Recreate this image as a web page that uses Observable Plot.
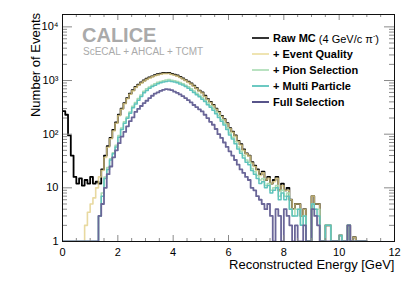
<!DOCTYPE html>
<html>
<head>
<meta charset="utf-8">
<script src="https://cdn.jsdelivr.net/npm/d3@7"></script>
<script src="https://cdn.jsdelivr.net/npm/@observablehq/plot@0.6"></script>
<style>
  html, body { margin: 0; padding: 0; background: #fff; }
  #wrap { position: relative; width: 415px; height: 281px; font-family: "Liberation Sans", Arial, Helvetica, sans-serif; }
  #calice { position: absolute; left: 82px; top: 28px; color: #aaa; font-weight: bold; font-size: 20px; line-height: 15px; }
  #calice-sub { position: absolute; left: 83px; top: 47px; color: #aaa; font-size: 10px; line-height: 10px; }
  #ytitle { position: absolute; left: 29px; top: 13px; font-size: 13px; line-height: 14px; writing-mode: vertical-rl; transform: rotate(180deg); color: #000; white-space: nowrap; }
  #legend { position: absolute; left: 252px; top: 30px; font-size: 11px; font-weight: bold; color: #000; }
  .row { display: flex; align-items: center; height: 16px; }
  .row svg { width: 18px; height: 6px; margin-right: 3px; }
  .row .n { font-weight: normal; }
</style>
</head>
<body>
<div id="wrap"></div>
<script>
// ---- data (0.1 GeV bins starting at 0.0 GeV) ----
const seriesNames = ["Raw MC", "+ Event Quality", "+ Pion Selection", "+ Multi Particle", "Full Selection"];

const rawMC = [
  270, 230, 95, 40, 16, 12, 15, 11, 14, 12,
  16, 12, 13, 12, 22, 40, 60, 85, 120, 165,
  230, 300, 380, 470, 570, 660, 760, 840, 920, 1000,
  1080, 1140, 1200, 1260, 1310, 1340, 1380, 1370, 1390, 1330,
  1290, 1240, 1170, 1100, 1020, 950, 880, 800, 720, 650,
  600, 520, 450, 400, 350, 300, 260, 220, 190, 160,
  130, 112, 95, 75, 65, 52, 44, 40, 30, 26,
  22, 18, 20, 14, 16, 12, 14, 16, 9, 12,
  9, 10, 6, 4, 5, 5, 3, 4, 0, 0,
  7, 5, 5, 0, 0, 2, 2, 0, 0, 0,
  1.3, 0, 0, 2, 0, 1.2, 0, 0, 0, 0
];
const eventQuality = [
  0, 0, 0, 0, 0, 0, 0, 0, 2, 3.5,
  5, 6.5, 10, 16, 21, 37, 57, 82, 115, 160,
  222, 292, 368, 458, 555, 640, 740, 815, 895, 975,
  1050, 1110, 1170, 1225, 1275, 1305, 1345, 1335, 1355, 1295,
  1255, 1210, 1140, 1070, 995, 925, 858, 780, 700, 635,
  585, 505, 438, 390, 340, 292, 253, 214, 185, 156,
  126, 109, 92, 73, 63, 50, 43, 39, 29, 25,
  21, 17, 19, 14, 15, 12, 13, 15, 9, 11,
  9, 9, 6, 4, 5, 5, 3, 4, 0, 0,
  7, 5, 5, 0, 0, 2, 2, 0, 0, 0,
  1.3, 0, 0, 2, 0, 1.2, 0, 0, 0, 0
];
const pionSelection = [
  0, 0, 0, 0, 0, 0, 0, 0, 0, 0,
  0, 0, 0, 3, 8, 16, 24, 35, 45, 62,
  95, 130, 170, 210, 260, 330, 390, 460, 540, 630,
  700, 760, 820, 875, 925, 960, 995, 1020, 1040, 1010,
  990, 960, 920, 875, 820, 765, 700, 640, 580, 530,
  480, 430, 380, 340, 300, 258, 222, 188, 160, 132,
  105, 88, 72, 58, 48, 40, 33, 30, 23, 20,
  17, 14, 15, 11, 12, 9, 10, 11, 7, 9,
  7, 8, 4, 3, 4, 4, 2, 3, 0, 0,
  5, 4, 4, 0, 0, 2, 2, 0, 0, 0,
  1.3, 0, 0, 2, 0, 0, 0, 0, 0, 0
];
const multiParticle = [
  0, 0, 0, 0, 0, 0, 0, 0, 0, 0,
  0, 0, 0, 3, 7, 15, 22, 33, 43, 58,
  88, 122, 160, 198, 245, 310, 365, 430, 505, 590,
  655, 715, 770, 820, 870, 905, 940, 960, 980, 955,
  935, 905, 865, 825, 770, 720, 660, 600, 545, 500,
  450, 405, 355, 318, 280, 240, 205, 175, 148, 122,
  97, 81, 66, 53, 44, 36, 30, 27, 21, 18,
  15, 12, 13, 10, 11, 8, 9, 10, 6, 8,
  6, 7, 4, 3, 3, 4, 2, 3, 0, 0,
  5, 4, 3, 0, 0, 2, 2, 0, 0, 0,
  1.3, 0, 0, 2, 0, 0, 0, 0, 0, 0
];
const fullSelection = [
  0, 0, 0, 0, 0, 0, 0, 0, 0, 0,
  0, 0, 0, 3, 5, 10, 18, 25, 37, 50,
  68, 90, 110, 140, 175, 205, 260, 295, 335, 380,
  420, 470, 520, 570, 600, 640, 670, 690, 680, 660,
  620, 590, 550, 510, 470, 430, 390, 350, 320, 290,
  265, 230, 200, 170, 150, 125, 100, 85, 70, 58,
  48, 40, 33, 27, 22, 19, 16, 14, 10, 9,
  7, 6, 5, 4, 5, 3, 0, 4, 3, 0,
  4, 3, 2, 0, 2, 0, 0, 2, 0, 0,
  4, 3, 2, 0, 0, 0, 0, 0, 0, 0,
  0, 0, 0, 2, 0, 0, 0, 0, 0, 0
];

const xTicks = [0, 2, 4, 6, 8, 10, 12];
const xMinorTicks = [0.5, 1, 1.5, 2.5, 3, 3.5, 4.5, 5, 5.5, 6.5, 7, 7.5, 8.5, 9, 9.5, 10.5, 11, 11.5];
const yTicks = [1, 10, 100, 1000, 10000];
const yTickLabels = ["1", "10", "10\u00B2", "10\u00B3", "10\u2074"];
const yMinorTicks = [2,3,4,5,6,7,8,9,20,30,40,50,60,70,80,90,200,300,400,500,600,700,800,900,2000,3000,4000,5000,6000,7000,8000,9000];

// ---- build ----
const binWidth = 0.1;
const allSeries = [rawMC, eventQuality, pionSelection, multiParticle, fullSelection];
const colors = ["#000000", "#e2d088", "#a9dcb3", "#5fc3bc", "#6a6698"];
const widths = [1.8, 1.6, 1.5, 1.5, 1.8];
const opac = [1, 0.8, 1, 1, 1];

function histPoints(vals) {
  const pts = vals.map((v, i) => ({x: i * binWidth, y: Math.max(v, 1)}));
  pts.push({x: vals.length * binWidth, y: Math.max(vals[vals.length - 1], 1)});
  return pts;
}

const W = 415, H = 281, mL = 62, mR = 21, mT = 14, mB = 40;
const fw = W - mL - mR, fh = H - mT - mB;
const font = '"Liberation Sans", Arial, Helvetica, sans-serif';
const tickColor = "#8a8a8a";

const marks = [];
allSeries.forEach((vals, k) => {
  marks.push(Plot.line(histPoints(vals), {x: "x", y: "y", curve: "step-after", stroke: colors[k], strokeWidth: widths[k], strokeOpacity: opac[k], clip: true}));
});
marks.push(
  Plot.tickX(xTicks, {x: d => d, stroke: tickColor, insetTop: fh - 6}),
  Plot.tickX(xMinorTicks, {x: d => d, stroke: tickColor, insetTop: fh - 3}),
  Plot.tickX(xTicks, {x: d => d, stroke: tickColor, insetBottom: fh - 6}),
  Plot.tickX(xMinorTicks, {x: d => d, stroke: tickColor, insetBottom: fh - 3}),
  Plot.tickY(yTicks, {y: d => d, stroke: tickColor, insetRight: fw - 10}),
  Plot.tickY(yMinorTicks, {y: d => d, stroke: tickColor, insetRight: fw - 5}),
  Plot.tickY(yTicks, {y: d => d, stroke: tickColor, insetLeft: fw - 10}),
  Plot.tickY(yMinorTicks, {y: d => d, stroke: tickColor, insetLeft: fw - 5}),
  Plot.frame({stroke: "#111", strokeWidth: 1}),
  Plot.text(xTicks, {x: d => d, text: d => String(d), frameAnchor: "bottom", dy: 11, lineAnchor: "middle", fontSize: 11, fill: "#000"}),
  Plot.text(yTicks, {y: d => d, text: (d, i) => yTickLabels[i], frameAnchor: "left", textAnchor: "end", dx: -4, fontSize: 11, fill: "#000"}),
  Plot.text(["Reconstructed Energy [GeV]"], {frameAnchor: "bottom-right", textAnchor: "end", lineAnchor: "bottom", dy: 27, fontSize: 13, fill: "#000"})
);

const chart = Plot.plot({
  width: W, height: H,
  marginLeft: mL, marginRight: mR, marginTop: mT, marginBottom: mB,
  style: {fontFamily: font, background: "#fff", overflow: "visible"},
  x: {domain: [0, 12], axis: null},
  y: {type: "log", domain: [1, 17000], axis: null},
  marks
});

const wrap = document.getElementById("wrap");
wrap.appendChild(chart);

const ytitle = document.createElement("div");
ytitle.id = "ytitle"; ytitle.textContent = "Number of Events";
wrap.appendChild(ytitle);

const calice = document.createElement("div");
calice.id = "calice"; calice.textContent = "CALICE";
wrap.appendChild(calice);
const sub = document.createElement("div");
sub.id = "calice-sub"; sub.textContent = "ScECAL + AHCAL + TCMT";
wrap.appendChild(sub);

const legendColors = ["#333333", "#efe4b2", "#b9e2c1", "#6cc9c2", "#57548a"];
const legend = document.createElement("div");
legend.id = "legend";
seriesNames.forEach((name, k) => {
  const row = document.createElement("div");
  row.className = "row";
  row.innerHTML = `<svg viewBox="0 0 18 6"><line x1="0" x2="17" y1="3" y2="3" stroke="${legendColors[k]}" stroke-width="2"/></svg><span>${name}</span>` +
    (k === 0 ? `<span class="n">&nbsp;(4 GeV/c &pi;<sup style="font-size:7px">-</sup>)</span>` : "");
  legend.appendChild(row);
});
wrap.appendChild(legend);
</script>
</body>
</html>
